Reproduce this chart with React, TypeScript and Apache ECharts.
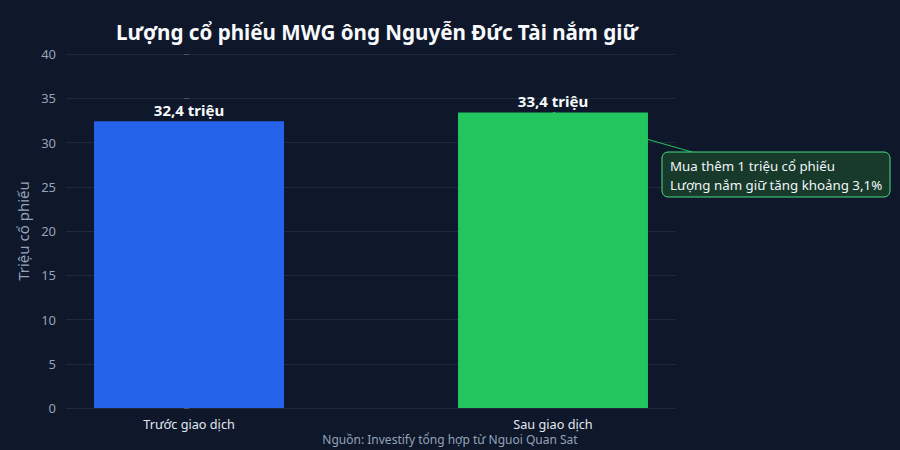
import React, { useEffect, useRef } from "react";
import * as echarts from "echarts";

const categories = ["Trước giao dịch", "Sau giao dịch"];
const categoryPositions = [0, 1];
const holdings = [32.4, 33.4];
const barColors = ["#2563eb", "#22c55e"];
const noteLines = ["Mua thêm 1 triệu cổ phiếu", "Lượng nắm giữ tăng khoảng 3,1%"];

const FONT = "'Noto Sans', 'Open Sans', sans-serif";

const App: React.FC = () => {
  const chartRef = useRef<HTMLDivElement>(null);

  useEffect(() => {
    if (!chartRef.current) return;
    const chart = echarts.init(chartRef.current, null, { renderer: "svg" });

    const option: echarts.EChartsOption = {
      animation: false,
      backgroundColor: "#0f172a",
      textStyle: { fontFamily: FONT },
      title: {
        text: "Lượng cổ phiếu MWG ông Nguyễn Đức Tài nắm giữ",
        left: 372,
        top: 16,
        textAlign: "center",
        textStyle: { color: "#f8fafc", fontSize: 20.6, fontWeight: "bold", fontFamily: FONT },
      },
      grid: { left: 66, right: 224, top: 54, bottom: 42 },
      xAxis: {
        type: "value",
        min: -0.338,
        max: 1.338,
        axisLine: { show: false },
        axisTick: { show: false },
        splitLine: { show: false },
        axisLabel: {
          color: "#e2e8f0",
          fontSize: 12.7,
          lineHeight: 15,
          margin: 8,
          customValues: categoryPositions,
          formatter: (v: number) => {
            const i = categoryPositions.indexOf(Math.round(v * 1000) / 1000);
            return i >= 0 ? categories[i] : "";
          },
        },
      } as any,
      yAxis: {
        type: "value",
        min: 0,
        max: 40,
        interval: 5,
        name: "Triệu cổ phiếu",
        nameLocation: "middle",
        nameGap: 32,
        nameTextStyle: { color: "#94a3b8", fontSize: 15 },
        axisLine: { show: false },
        axisTick: { show: true, length: 5, lineStyle: { color: "#475569" } },
        axisLabel: { color: "#94a3b8", fontSize: 13, margin: 10 },
        splitLine: { lineStyle: { color: "#1e293b", width: 1 } },
      },
      series: [
        {
          type: "bar",
          barWidth: 190,
          data: holdings.map((v, i) => ({
            value: [categoryPositions[i], v],
            itemStyle: { color: barColors[i] },
          })),
          label: {
            show: true,
            position: "top",
            distance: 4,
            color: "#f8fafc",
            fontSize: 15,
            fontWeight: "bold",
            formatter: (p: any) => `${String(p.value[1]).replace(".", ",")} triệu`,
          },
        },
      ],
    };

    chart.setOption(option);

    const start = chart.convertToPixel({ gridIndex: 0 }, [categoryPositions[1], holdings[1]]) as number[];

    chart.setOption({
      graphic: [
        {
          type: "line",
          z: 0,
          shape: { x1: start[0], y1: start[1], x2: 692, y2: 152 },
          style: { stroke: "#22c55e", lineWidth: 1 },
        },
        {
          type: "rect",
          z: 10,
          shape: { x: 662, y: 152, width: 228, height: 45, r: 6 },
          style: { fill: "#173a2b", stroke: "#4ade80", lineWidth: 1 },
        },
        {
          type: "text",
          z: 11,
          x: 670,
          y: 156,
          style: {
            text: noteLines.join("\n"),
            fill: "#f1f5f9",
            font: `13.3px ${FONT}`,
            lineHeight: 19,
          },
        },
        {
          type: "text",
          x: 450,
          y: 439,
          style: {
            text: "Nguồn: Investify tổng hợp từ Nguoi Quan Sat",
            fill: "#94a3b8",
            font: `12px ${FONT}`,
            lineHeight: 13,
            align: "center",
            verticalAlign: "middle",
          },
        },
      ],
    });

    return () => {
      chart.dispose();
    };
  }, []);

  return (
    <div
      ref={chartRef}
      style={{ position: "absolute", left: 0, top: 0, width: 900, height: 450 }}
    />
  );
};

export default App;
